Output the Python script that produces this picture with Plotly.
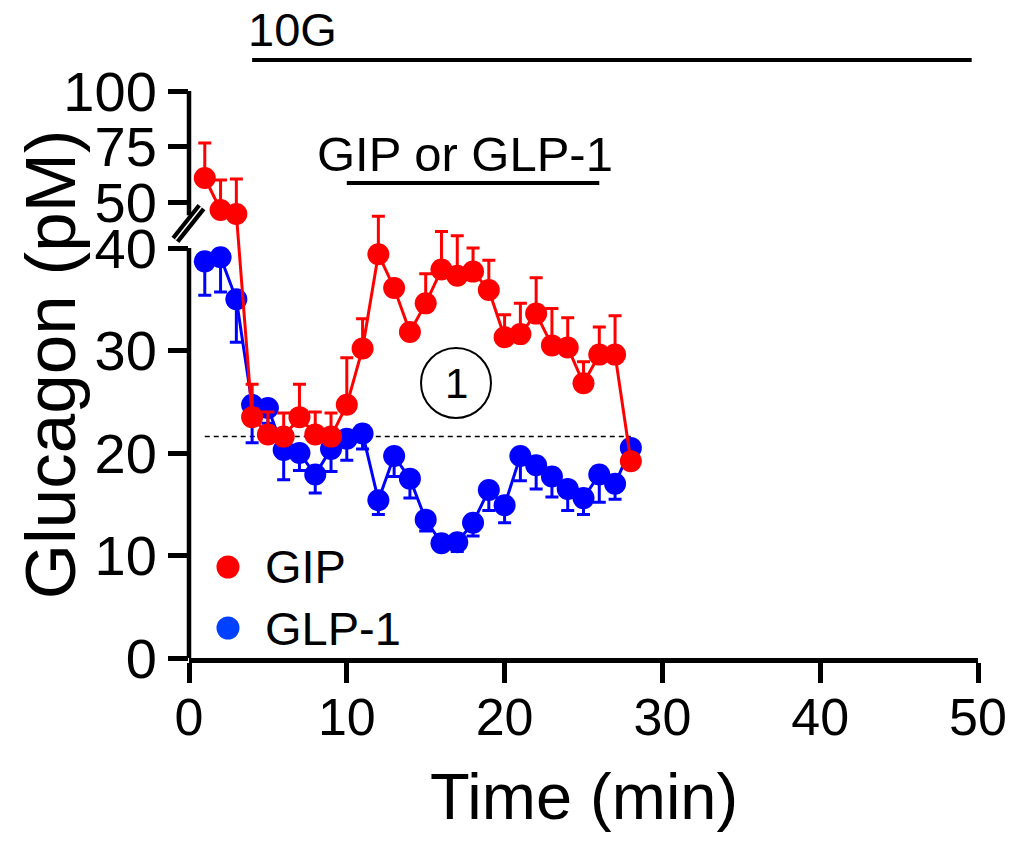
import plotly.graph_objects as go

# ---------------- data ----------------
time_min = list(range(1, 29))

gip_mean = [60.8, 46.4, 44.6, 23.5, 21.8, 21.6, 23.5, 21.8, 21.6, 24.7, 30.2, 39.4, 36.1, 31.8,
            34.6, 37.9, 37.3, 37.7, 35.9, 31.3, 31.6, 33.6, 30.5, 30.3, 26.8, 29.6, 29.6, 19.2]
gip_sem = [15.8, 13.5, 15.8, 3.2, 2.2, 2.3, 3.2, 2.2, 2.3, 4.6, 2.9, 3.7, 0.5, 0.5,
           2.9, 3.7, 3.9, 2.3, 2.9, 2.2, 3.0, 3.5, 3.6, 2.9, 2.1, 2.7, 3.8, 0.5]

glp1_mean = [38.7, 39.1, 35.0, 24.7, 24.4, 20.3, 20.0, 17.9, 20.4, 21.4, 21.9, 15.4, 19.7, 17.5,
             13.5, 11.2, 11.3, 13.2, 16.4, 14.9, 19.7, 18.8, 17.7, 16.5, 15.6, 17.9, 17.0, 20.5]
glp1_sem = [3.3, 3.4, 4.2, 3.7, 1.5, 2.9, 1.7, 1.8, 2.2, 2.1, 1.5, 1.4, 2.0, 1.9,
            1.1, 0.5, 0.9, 1.3, 2.0, 1.7, 2.4, 2.3, 2.0, 2.1, 1.6, 2.7, 1.5, 0.5]

baseline = 21.6
baseline_x = [1, 28]

y_ticks = [0, 10, 20, 30, 40, 50, 75, 100]
x_ticks = [0, 10, 20, 30, 40, 50]

glucose_bar = [4, 49.6]      # "10G"
peptide_bar = [10, 26]       # "GIP or GLP-1"

# ---------------- broken y-axis mapping ----------------
SPLIT = 42.0          # points above this belong to upper segment
UPPER_BASE = 44.49    # axis position of value 50
UPPER_SCALE = 0.2166  # compression of upper segment
UPPER_START = 44.0    # lowest value shown on upper segment


def to_axis(v, upper):
    return UPPER_BASE + (v - 50) * UPPER_SCALE if upper else v


def mapped(means, sems, direction):
    ys, up, dn = [], [], []
    for m, s in zip(means, sems):
        u = m > SPLIT
        y = to_axis(m, u)
        ys.append(y)
        if direction > 0:
            up.append(to_axis(m + s, u) - y)
            dn.append(0)
        else:
            up.append(0)
            dn.append(y - to_axis(m - s, u))
    return ys, up, dn


RED = "#FF0000"
BLUE = "#0000FF"
FONT = "Liberation Sans, Arial, sans-serif"

fig = go.Figure()

fig.add_trace(go.Scatter(x=baseline_x, y=[baseline, baseline], mode="lines",
                         line=dict(color="black", width=1.5, dash="5px,4px"),
                         showlegend=False, hoverinfo="skip"))

gy, gu, gd = mapped(glp1_mean, glp1_sem, -1)
fig.add_trace(go.Scatter(x=time_min, y=gy, mode="lines+markers", name="GLP-1",
                         line=dict(color=BLUE, width=3),
                         marker=dict(color=BLUE, size=22),
                         error_y=dict(type="data", symmetric=False, array=gu, arrayminus=gd,
                                      color=BLUE, thickness=3, width=6.5),
                         showlegend=False))

ry, ru, rd = mapped(gip_mean, gip_sem, 1)
fig.add_trace(go.Scatter(x=time_min, y=ry, mode="lines+markers", name="GIP",
                         line=dict(color=RED, width=3),
                         marker=dict(color=RED, size=22),
                         error_y=dict(type="data", symmetric=False, array=ru, arrayminus=rd,
                                      color=RED, thickness=3, width=6.5),
                         showlegend=False))

y_top = to_axis(100, True)
shapes = [
    # y-axis line segments (broken)
    dict(type="line", xref="paper", yref="y", x0=0, x1=0, y0=0, y1=40,
         line=dict(color="black", width=4.5)),
    dict(type="line", xref="paper", yref="y", x0=0, x1=0,
         y0=to_axis(UPPER_START, True), y1=y_top, line=dict(color="black", width=4.5)),
    # break mark
    dict(type="line", xref="paper", yref="y", x0=-0.0172, x1=0.0158, y0=40.8, y1=44.0,
         line=dict(color="black", width=10)),
    dict(type="line", xref="paper", yref="y", x0=-0.0172, x1=0.0158, y0=40.8, y1=44.0,
         line=dict(color="white", width=1.5)),
    # treatment bars
    dict(type="line", xref="x", yref="paper", x0=glucose_bar[0], x1=glucose_bar[1],
         y0=1.0547, y1=1.0547, line=dict(color="black", width=4)),
    dict(type="line", xref="x", yref="paper", x0=peptide_bar[0], x1=peptide_bar[1],
         y0=0.8377, y1=0.8377, line=dict(color="black", width=4)),
    # circled 1
    dict(type="circle", xref="x", yref="y", xsizemode="pixel", ysizemode="pixel",
         xanchor=16.92, yanchor=26.83, x0=-35, x1=35, y0=-35, y1=35,
         line=dict(color="black", width=2)),
    # legend symbols
    dict(type="circle", xref="paper", yref="paper", xsizemode="pixel", ysizemode="pixel",
         xanchor=0.0494, yanchor=0.1605, x0=-11.5, x1=11.5, y0=-11.5, y1=11.5,
         fillcolor=RED, line=dict(width=0)),
    dict(type="circle", xref="paper", yref="paper", xsizemode="pixel", ysizemode="pixel",
         xanchor=0.0494, yanchor=0.0529, x0=-11.5, x1=11.5, y0=-11.5, y1=11.5,
         fillcolor="#0040FF", line=dict(width=0)),
]

annotations = [
    dict(text="10G", xref="x", yref="paper", x=3.62, y=1.1076, xanchor="left",
         yanchor="middle", showarrow=False, font=dict(size=47, color="black", family=FONT)),
    dict(text="GIP or GLP-1", xref="x", yref="paper", x=17.5, y=0.889, xanchor="center",
         yanchor="middle", showarrow=False, font=dict(size=49, color="black", family=FONT)),
    dict(text="1", xref="x", yref="y", x=16.92, y=26.83, xanchor="center", yanchor="middle",
         showarrow=False, font=dict(size=42, color="black", family=FONT)),
    dict(text="GIP", xref="paper", yref="paper", x=0.0938, y=0.1605, xanchor="left",
         yanchor="middle", showarrow=False, font=dict(size=47, color="black", family=FONT)),
    dict(text="GLP-1", xref="paper", yref="paper", x=0.0938, y=0.0529, xanchor="left",
         yanchor="middle", showarrow=False, font=dict(size=47, color="black", family=FONT)),
    dict(text="Time (min)", xref="paper", yref="paper", x=0.5, y=-0.245, xanchor="center",
         yanchor="middle", showarrow=False, font=dict(size=65, color="black", family=FONT)),
    dict(text="Glucagon (pM)", xref="paper", yref="paper", x=-0.176, y=0.5185,
         xanchor="center", yanchor="middle", textangle=-90, showarrow=False,
         font=dict(size=71, color="black", family=FONT)),
]

# the page body adds an 8 px margin, so the figure is 16 px smaller than the window
fig.update_layout(
    width=999, height=826,
    margin=dict(l=181, r=29, t=83, b=176, autoexpand=False),
    paper_bgcolor="white", plot_bgcolor="white",
    font=dict(family=FONT, color="black"),
    shapes=shapes, annotations=annotations,
    showlegend=False,
    xaxis=dict(range=[0, 50], tickvals=x_ticks, showline=True, linewidth=4.5, linecolor="black",
               ticks="outside", ticklen=20, tickwidth=4.5, tickcolor="black",
               showgrid=False, zeroline=False, tickfont=dict(size=52, family=FONT),
               ticklabelstandoff=-10, automargin=False),
    yaxis=dict(range=[0, y_top],
               tickvals=[to_axis(v, v > SPLIT) for v in y_ticks],
               ticktext=[str(v) for v in y_ticks],
               showline=False, ticks="outside", ticklen=20, tickwidth=4.5, tickcolor="black",
               showgrid=False, zeroline=False, tickfont=dict(size=56, family=FONT),
               ticklabelstandoff=0, automargin=False),
)

fig.write_html("out.html")
